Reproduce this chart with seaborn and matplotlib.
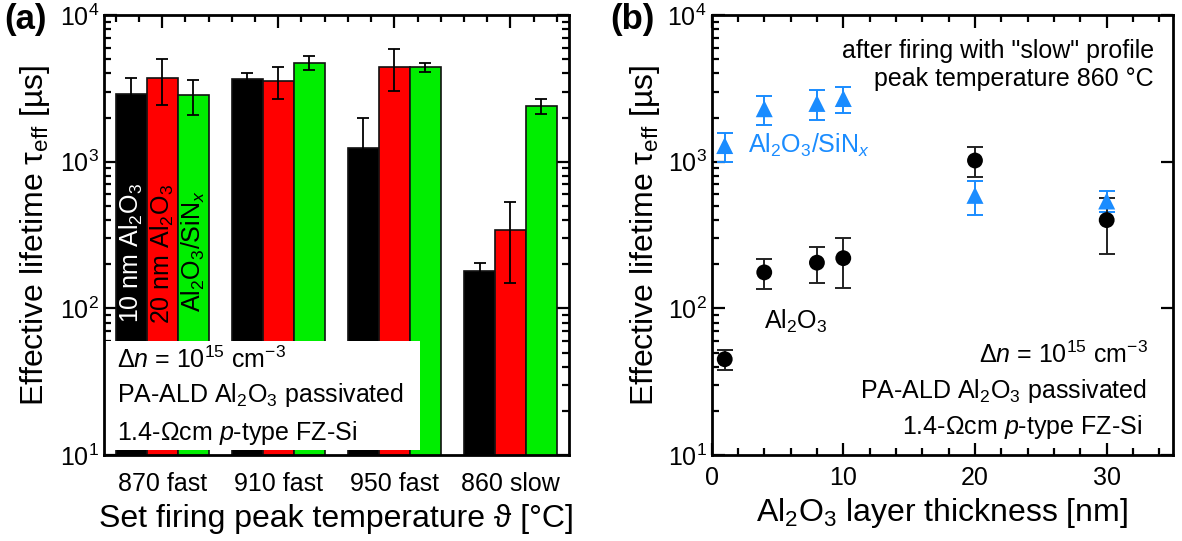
import numpy as np
import pandas as pd
import matplotlib
matplotlib.use("Agg")
import matplotlib.pyplot as plt
import seaborn as sns
from matplotlib.ticker import LogLocator, FixedLocator, MultipleLocator, NullFormatter
from matplotlib.patches import Rectangle

# ---------------- data ----------------
categories = ["870 fast", "910 fast", "950 fast", "860 slow"]
series = ["10 nm Al2O3", "20 nm Al2O3", "Al2O3/SiNx"]
tau_10nm = [2900, 3650, 1240, 180]
err_10nm = [800, 350, 740, 25]
tau_20nm = [3750, 3550, 4450, 340]
err_20nm = [1300, 850, 1400, 190]
tau_stack = [2850, 4750, 4400, 2400]
err_stack = [750, 550, 300, 270]

thickness_al = [1, 4, 8, 10, 20, 30]
tau_al = [45, 176, 205, 220, 1020, 400]
err_al = [7, 40, 57, 82, 235, 164]
thickness_stack = [1, 4, 8, 10, 20, 30]
tau_st = [1290, 2300, 2500, 2700, 590, 540]
err_st = [290, 520, 580, 560, 155, 87]

bar_colors = ["#000000", "#ff0000", "#00ee00"]
blue = "#1a8cff"

# ---------------- style ----------------
sns.set_style("ticks")
plt.rcParams["font.family"] = ["Liberation Sans", "DejaVu Sans"]
plt.rcParams["mathtext.fontset"] = "custom"
plt.rcParams["mathtext.rm"] = "Liberation Sans"
plt.rcParams["mathtext.it"] = "Liberation Sans:italic"
plt.rcParams["mathtext.bf"] = "Liberation Sans:bold"
plt.rcParams["axes.linewidth"] = 2.0
for k in ["text.color", "axes.labelcolor", "xtick.color", "ytick.color", "axes.edgecolor"]:
    plt.rcParams[k] = "black"

FS = 18
LFS = 23

fig = plt.figure(figsize=(11.82, 5.41), dpi=100)
ax1 = fig.add_axes([0.088, 0.159, 0.393, 0.813])
ax2 = fig.add_axes([0.602, 0.159, 0.390, 0.813])

# ---------------- panel (a) ----------------
rows = []
for s, vals, errs in zip(series, [tau_10nm, tau_20nm, tau_stack], [err_10nm, err_20nm, err_stack]):
    for c, v, e in zip(categories, vals, errs):
        rows.append({"cat": c, "series": s, "tau": v, "err": e})
df = pd.DataFrame(rows)

sns.barplot(data=df, x="cat", y="tau", hue="series", order=categories, hue_order=series,
            palette=bar_colors, edgecolor="#111111", linewidth=1.2, width=0.8,
            errorbar=None, legend=False, saturation=1, ax=ax1)
ax1.set_yscale("log")
ax1.set_ylim(10, 1e4)
ax1.set_xlim(-0.5, 3.5)

# error bars on the bars, positions from the drawn patches
hv = df["tau"].to_numpy()
ev = df["err"].to_numpy()
for p in ax1.patches:
    h = p.get_height()
    if not np.isfinite(h) or h <= 0:
        continue
    idx = int(np.argmin(np.abs(hv - h)))
    xc = p.get_x() + p.get_width() / 2
    ax1.errorbar(xc, h, yerr=ev[idx], fmt="none", ecolor="black", elinewidth=1.3,
                 capsize=4, capthick=1.3, zorder=5)

# vertical labels inside first group bars
label_texts = [r"10 nm Al$_2$O$_3$", r"20 nm Al$_2$O$_3$", r"Al$_2$O$_3$/SiN$_x$"]
label_colors = ["white", "black", "black"]
label_y = [80, 78, 95]
first_patches = {}
for p in ax1.patches:
    h = p.get_height()
    if not np.isfinite(h) or h <= 0:
        continue
    idx = int(np.argmin(np.abs(hv - h)))
    if df["cat"].iloc[idx] == categories[0]:
        first_patches[df["series"].iloc[idx]] = p.get_x() + p.get_width() / 2
for s, t, col, yy in zip(series, label_texts, label_colors, label_y):
    ax1.text(first_patches[s], yy, t, rotation=90, rotation_mode="anchor",
             ha="left", va="center", color=col, fontsize=FS, zorder=6)

# white info box
ax1.add_patch(Rectangle((0.0, 0.011), 0.68, 0.248, transform=ax1.transAxes,
                        facecolor="white", edgecolor="none", zorder=7))
box_lines = [r"Δ$n$ = 10$^{15}$ cm$^{-3}$",
             r"PA-ALD Al$_2$O$_3$ passivated",
             r"1.4-Ωcm $p$-type FZ-Si"]
for t, yy in zip(box_lines, [39, 23, 12.7]):
    ax1.text(-0.39, yy, t, ha="left", va="baseline", fontsize=FS, zorder=8)

ax1.set_xlabel(r"Set firing peak temperature ϑ [°C]", fontsize=LFS, labelpad=6)
ax1.set_ylabel(r"Effective lifetime τ$_{\rm eff}$ [µs]", fontsize=LFS, labelpad=6)
ax1.yaxis.set_major_locator(LogLocator(base=10, numticks=10))
ax1.yaxis.set_minor_locator(LogLocator(base=10, subs=np.arange(2, 10), numticks=10))
ax1.yaxis.set_minor_formatter(NullFormatter())
ax1.xaxis.set_minor_locator(FixedLocator([-0.4, -0.2, 0.2, 0.4, 0.6, 0.8, 1.2, 1.4, 1.6, 1.8,
                                          2.2, 2.4, 2.6, 2.8, 3.2, 3.4]))
ax1.tick_params(axis="y", which="both", direction="in", left=True, right=True, labelsize=FS)
ax1.tick_params(axis="y", which="major", length=9, width=1.6)
ax1.tick_params(axis="y", which="minor", length=5, width=1.6)
ax1.tick_params(axis="x", which="both", direction="in", bottom=False, top=True,
                labelbottom=True, labelsize=FS, width=1.6, pad=12)
ax1.tick_params(axis="x", which="major", length=9)
ax1.tick_params(axis="x", which="minor", length=5)
for sp in ax1.spines.values():
    sp.set_zorder(10)

# ---------------- panel (b) ----------------
dfa = pd.DataFrame({"d": thickness_al, "tau": tau_al, "err": err_al})
dfs = pd.DataFrame({"d": thickness_stack, "tau": tau_st, "err": err_st})

ax2.errorbar(dfs["d"], dfs["tau"], yerr=dfs["err"], fmt="none", ecolor=blue,
             elinewidth=1.4, capsize=5.5, capthick=1.4, zorder=3)
ax2.errorbar(dfa["d"], dfa["tau"], yerr=dfa["err"], fmt="none", ecolor="#222222",
             elinewidth=1.4, capsize=5.5, capthick=1.4, zorder=3)
sns.scatterplot(data=dfs, x="d", y="tau", marker="^", s=150, color=blue,
                edgecolor="none", ax=ax2, zorder=4)
sns.scatterplot(data=dfa, x="d", y="tau", marker="o", s=130, color="black",
                edgecolor="none", ax=ax2, zorder=5)
ax2.set_yscale("log")
ax2.set_ylim(10, 1e4)
ax2.set_xlim(0, 35)

ax2.text(33.6, 5680, 'after firing with "slow" profile', ha="right", va="center", fontsize=FS)
ax2.text(33.6, 3690, "peak temperature 860 °C", ha="right", va="center", fontsize=FS)
ax2.text(2.8, 1300, r"Al$_2$O$_3$/SiN$_x$", ha="left", va="center", fontsize=FS, color=blue)
ax2.text(4.0, 82, r"Al$_2$O$_3$", ha="left", va="center", fontsize=FS)
ax2.text(33.1, 48, r"Δ$n$ = 10$^{15}$ cm$^{-3}$", ha="right", va="center", fontsize=FS)
ax2.text(33.1, 27.3, r"PA-ALD Al$_2$O$_3$ passivated", ha="right", va="center", fontsize=FS)
ax2.text(32.7, 15.5, r"1.4-Ωcm $p$-type FZ-Si", ha="right", va="center", fontsize=FS)

ax2.set_xlabel(r"Al$_2$O$_3$ layer thickness [nm]", fontsize=LFS, labelpad=4)
ax2.set_ylabel(r"Effective lifetime τ$_{\rm eff}$ [µs]", fontsize=LFS, labelpad=4)
ax2.xaxis.set_major_locator(MultipleLocator(10))
ax2.xaxis.set_minor_locator(MultipleLocator(2))
ax2.yaxis.set_major_locator(LogLocator(base=10, numticks=10))
ax2.yaxis.set_minor_locator(LogLocator(base=10, subs=np.arange(2, 10), numticks=10))
ax2.yaxis.set_minor_formatter(NullFormatter())
ax2.tick_params(axis="both", which="both", direction="in", top=True, right=True,
                labelsize=FS, width=1.6)
ax2.tick_params(axis="y", which="minor", right=False)
ax2.tick_params(which="major", length=9)
ax2.tick_params(which="minor", length=5)
ax2.tick_params(axis="x", pad=8)

fig.text(0.004, 0.995, "(a)", fontsize=25, fontweight="bold", ha="left", va="top")
fig.text(0.516, 0.995, "(b)", fontsize=25, fontweight="bold", ha="left", va="top")

fig.savefig("out.png", dpi=100)
